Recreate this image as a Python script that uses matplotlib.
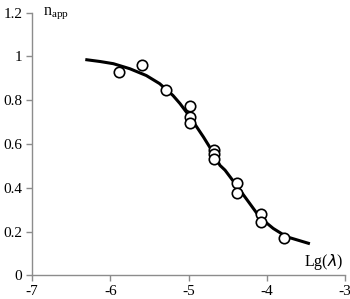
import numpy as np
import matplotlib.pyplot as plt

lg_lam = [-5.89, -5.59, -5.29, -4.98, -4.98, -4.98, -4.68, -4.68, -4.68,
          -4.38, -4.38, -4.08, -4.08, -3.78]
n_app = [0.93, 0.963, 0.848, 0.774, 0.723, 0.698, 0.575, 0.554, 0.531,
         0.423, 0.375, 0.280, 0.242, 0.169]

# Fitted curve
curve_x = [-6.30, -6.13, -5.96, -5.75, -5.54, -5.37, -5.20, -5.11, -4.98,
           -4.81, -4.68, -4.60, -4.535, -4.39, -4.22, -4.09, -3.92, -3.75, -3.47]
curve_y = [0.985, 0.977, 0.967, 0.944, 0.913, 0.876, 0.822, 0.785, 0.723,
           0.632, 0.557, 0.503, 0.481, 0.412, 0.329, 0.265, 0.215, 0.177, 0.147]

x_ticks = [-7, -6, -5, -4, -3]
y_ticks = [0, 0.2, 0.4, 0.6, 0.8, 1, 1.2]
y_labels = ['0', '0.2', '0.4', '0.6', '0.8', '1', '1.2']

plt.rcParams['font.family'] = 'Liberation Serif'
plt.rcParams['axes.unicode_minus'] = False
fig = plt.figure(figsize=(3.5, 2.99), dpi=100)
ax = fig.add_axes([0.0914, 0.0786, 0.895, 0.879])

ax.plot(curve_x, curve_y, color='black', linewidth=2.2, zorder=2)
ax.plot(lg_lam, n_app, 'o', markersize=7.5, markerfacecolor='white',
        markeredgecolor='black', markeredgewidth=1.2, zorder=3)

ax.set_xlim(-7, -3)
ax.set_ylim(0, 1.2)
ax.set_xticks(x_ticks)
ax.set_yticks(y_ticks)
ax.set_yticklabels(y_labels)
for s in ['top', 'right']:
    ax.spines[s].set_visible(False)
for s in ['left', 'bottom']:
    ax.spines[s].set_color('#8c8c8c')
    ax.spines[s].set_linewidth(1.0)
ax.tick_params(colors='#8c8c8c', labelcolor='black', labelsize=11,
               length=4, width=1.0, direction='out', pad=3)

ax.text(-6.86, 1.2, r'n$_{\mathregular{app}}$', fontsize=11.5, va='center', ha='left')
ax.text(-3.02, 0.06, r'Lg($\lambda$)', fontsize=11.5, va='center', ha='right')

fig.savefig('out.png', dpi=100)
